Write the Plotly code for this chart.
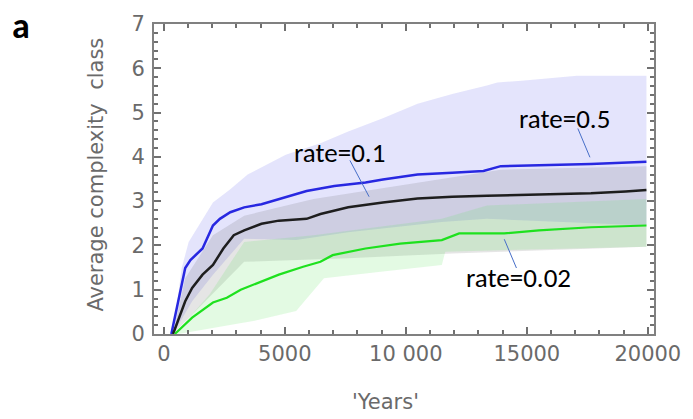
import plotly.graph_objects as go

# ---- mean curves (years, average complexity class) ----
blue_x = [310, 884, 1099, 1600, 2030, 2317, 2747, 3320, 4036, 4753, 5900, 7046, 8335, 9052, 10485, 11918, 13208, 13924, 14784, 16217, 17650, 19943]
blue_y = [0, 1.49, 1.67, 1.93, 2.45, 2.60, 2.75, 2.86, 2.93, 3.05, 3.23, 3.34, 3.42, 3.49, 3.60, 3.64, 3.68, 3.79, 3.80, 3.83, 3.84, 3.89]

black_x = [382, 884, 1170, 1600, 2030, 2460, 2890, 3320, 4036, 4753, 5900, 6473, 7620, 9052, 10485, 11918, 13350, 14784, 16217, 17650, 19083, 19943]
black_y = [0, 0.74, 1.04, 1.34, 1.56, 1.93, 2.23, 2.34, 2.49, 2.56, 2.60, 2.71, 2.86, 2.97, 3.06, 3.10, 3.12, 3.14, 3.16, 3.18, 3.22, 3.25]

green_x = [454, 1170, 2030, 2603, 3176, 4036, 4753, 5756, 6473, 6975, 8335, 9768, 11488, 12204, 14067, 15500, 17650, 19943]
green_y = [0, 0.37, 0.71, 0.82, 1.00, 1.19, 1.34, 1.52, 1.63, 1.78, 1.93, 2.04, 2.12, 2.27, 2.27, 2.34, 2.41, 2.45]

# ---- spread bands ----
blue_up_x = [382, 740, 1027, 1600, 2030, 2747, 3463, 5039, 6472, 7619, 9052, 10485, 11918, 13351, 13781, 14784, 17077, 19943]
blue_up_y = [0, 1.49, 2.08, 2.60, 2.97, 3.27, 3.60, 4.05, 4.31, 4.57, 4.87, 5.20, 5.42, 5.61, 5.68, 5.72, 5.83, 5.83]
blue_lo_x = [382, 1170, 2030, 3320, 5469, 7619, 11488, 13351, 19943]
blue_lo_y = [0, 0.74, 1.34, 2.15, 2.12, 2.30, 2.53, 2.60, 2.45]

black_up_x = [382, 884, 2030, 3320, 6186, 10485, 13924, 19943]
black_up_y = [0, 1.26, 2.23, 2.67, 3.05, 3.42, 3.71, 3.79]
black_lo_x = [382, 3320, 7619, 11918, 19943]
black_lo_y = [0, 1.63, 1.71, 1.82, 1.97]

green_up_x = [454, 1887, 3320, 6186, 11488, 13351, 19943]
green_up_y = [0, 0.89, 2.08, 2.23, 2.60, 2.90, 3.05]
green_lo_x = [454, 597, 3750, 5469, 6616, 9052, 11488, 11631, 19943]
green_lo_y = [0, 0, 0.30, 0.52, 1.26, 1.41, 1.56, 1.86, 1.97]

x_tickvals = [0, 5000, 10000, 15000, 20000]
x_ticktext = ["0", "5000", "10 000", "15000", "20000"]
y_tickvals = [0, 1, 2, 3, 4, 5, 6, 7]

labels = ["rate=0.5", "rate=0.1", "rate=0.02"]

W, H = 693, 419
L, R, T, B = 154, 30, 19, 85
pw, ph = W - L - R, H - T - B

fig = go.Figure()


def band(ux, uy, lx, ly, color):
    fig.add_trace(go.Scatter(
        x=list(ux) + list(lx)[::-1],
        y=list(uy) + list(ly)[::-1],
        fill="toself", fillcolor=color, line=dict(width=0),
        mode="lines", hoverinfo="skip", showlegend=False))


band(blue_up_x, blue_up_y, blue_lo_x, blue_lo_y, "rgba(120,120,240,0.20)")
band(black_up_x, black_up_y, black_lo_x, black_lo_y, "rgba(80,80,80,0.15)")
band(green_up_x, green_up_y, green_lo_x, green_lo_y, "rgba(100,230,100,0.18)")

fig.add_trace(go.Scatter(x=blue_x, y=blue_y, mode="lines",
                         line=dict(color="rgb(40,40,225)", width=2.5), showlegend=False))
fig.add_trace(go.Scatter(x=black_x, y=black_y, mode="lines",
                         line=dict(color="rgb(30,30,30)", width=2.5), showlegend=False))
fig.add_trace(go.Scatter(x=green_x, y=green_y, mode="lines",
                         line=dict(color="rgb(30,225,30)", width=2.2), showlegend=False))

label_font = dict(family="Carlito, Lato, sans-serif", size=27, color="black")
label_pos = [(16549, 4.87), (7263, 4.09), (14645, 1.27)]
leaders = [((17109, 4.64), (17609, 3.99)),
           ((7690, 3.92), (8482, 3.10)),
           ((14068, 2.14), (14572, 1.49))]
for txt, (lx, ly), ((x0, y0), (x1, y1)) in zip(labels, label_pos, leaders):
    fig.add_annotation(x=lx, y=ly, xref="x", yref="y", text=txt, showarrow=False,
                       font=label_font, xanchor="center", yanchor="middle")
    fig.add_shape(type="line", x0=x0, y0=y0, x1=x1, y1=y1, xref="x", yref="y",
                  line=dict(color="rgb(70,110,200)", width=1))

gray_font = dict(family="DejaVu Sans, sans-serif", size=21, color="#6a6a6a")

fig.update_xaxes(range=[-406, 20256], tickvals=x_tickvals, ticktext=x_ticktext,
                 ticks="inside", ticklen=7, tickwidth=1.5, tickcolor="#707070",
                 minor=dict(tickvals=list(range(0, 20001, 1000)), ticks="inside", ticklen=4,
                            tickcolor="#707070", tickwidth=1.5),
                 showline=True, linecolor="#808080", linewidth=2, mirror="allticks",
                 showgrid=False, zeroline=False, tickfont=gray_font)
fig.update_yaxes(range=[0, 7], tickvals=y_tickvals,
                 ticks="inside", ticklen=7, tickwidth=1.5, tickcolor="#707070",
                 minor=dict(tickvals=[i / 5 for i in range(0, 36)], ticks="inside", ticklen=4,
                            tickcolor="#707070", tickwidth=1.5),
                 showline=True, linecolor="#808080", linewidth=2, mirror="allticks",
                 showgrid=False, zeroline=False, tickfont=gray_font, ticklabelstandoff=3)


def px_ann(text, px, py, font, angle=0):
    fig.add_annotation(text=text, showarrow=False, textangle=angle,
                       x=(px - L) / pw, y=1 - (py - T) / ph, xref="paper", yref="paper",
                       xanchor="center", yanchor="middle", font=font)


px_ann("'Years'", 390, 403, gray_font)
px_ann("Average complexity  class", 95, 172, gray_font, -90)
px_ann("<b>a</b>", 19, 21, dict(family="Carlito, Lato, sans-serif", size=36, color="black"))

fig.update_layout(width=W, height=H, margin=dict(l=L, r=R, t=T, b=B),
                  plot_bgcolor="white", paper_bgcolor="white")

fig.write_html("out.html")
